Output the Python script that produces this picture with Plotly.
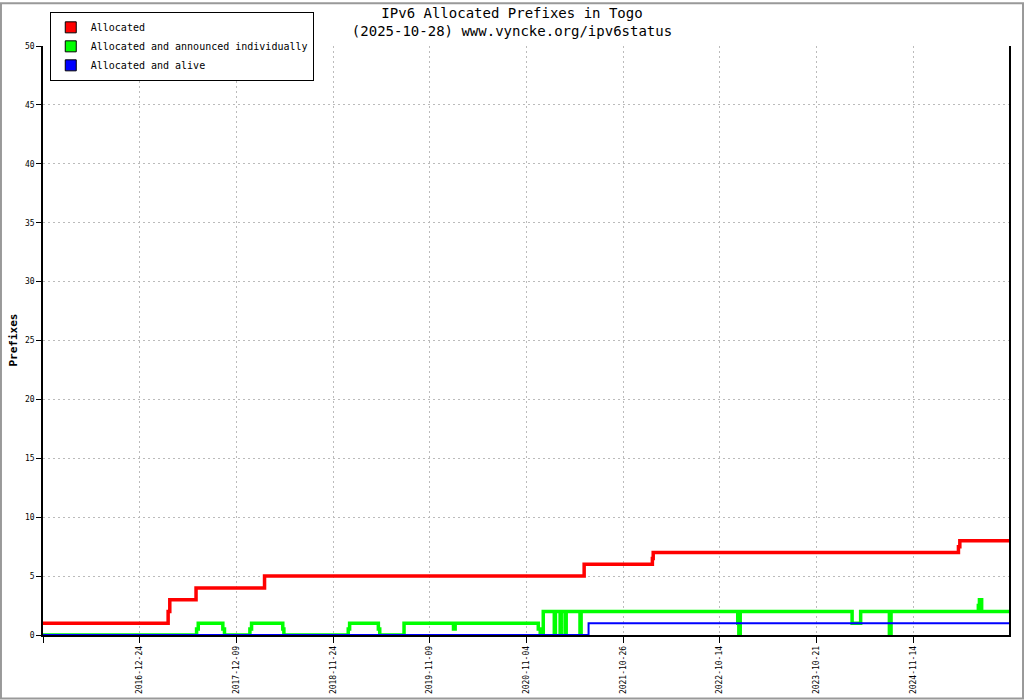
import plotly.graph_objects as go

# x is the sample number (about one sample per day) since the first record
allocated_x = [0, 453, 459, 554, 802, 1959, 2206, 2209, 3314, 3319, 3497]
allocated_y = [1, 2, 3, 4, 5, 6, 6.5, 7, 7.5, 8, 8]

announced_x = [0, 556, 562, 651, 657, 749, 755, 868, 872, 1105, 1110, 1214, 1219, 1307,
               1486, 1492, 1793, 1800, 1811, 1851, 1855, 1872, 1876, 1890, 1894, 1944, 1948,
               2515, 2519, 2524, 2929, 2960, 3064, 3070, 3386, 3390, 3398, 3497]
announced_y = [0, 0.5, 1, 0.5, 0, 0.5, 1, 0.5, 0, 0.5, 1, 0.5, 0, 1,
               0.5, 1, 0.5, 0, 2, 0, 2, 0, 2, 0, 2, 0, 2,
               1, 0, 2, 1, 2, 0, 2, 2.5, 3, 2, 2]

alive_x = [0, 1975, 3497]
alive_y = [0, 1, 1]

tick_index = [0, 350, 700, 1050, 1400, 1750, 2100, 2450, 2800, 3150]
tick_labels = ['', '2016-12-24', '2017-12-09', '2018-11-24', '2019-11-09', '2020-11-04',
               '2021-10-26', '2022-10-14', '2023-10-21', '2024-11-14']

series = [
    ('Allocated', allocated_x, allocated_y, '#ff0000', 3.5),
    ('Allocated and announced individually', announced_x, announced_y, '#00ff00', 3.5),
    ('Allocated and alive', alive_x, alive_y, '#0000ff', 2),
]

mono = 'DejaVu Sans Mono'

fig = go.Figure()
for name, xs, ys, color, width in series:
    fig.add_trace(go.Scatter(x=xs, y=ys, mode='lines', line=dict(color=color, width=width, shape='hv'),
                             name=name, showlegend=False, legendgroup=name))
# legend entries drawn as coloured boxes like the original
for name, xs, ys, color, width in series:
    fig.add_trace(go.Scatter(x=[None], y=[None], mode='markers', name=name, legendgroup=name,
                             marker=dict(symbol='square', size=11, color=color,
                                         line=dict(color='black', width=1))))

fig.update_layout(
    width=1024, height=700,
    paper_bgcolor='white',
    plot_bgcolor='white',
    margin=dict(l=43, r=15, t=44, b=65),
    font={'color': 'black', 'family': mono},
    title=dict(text='IPv6 Allocated Prefixes in Togo<br>(2025-10-28) www.vyncke.org/ipv6status',
               x=0.5, xref='container', xanchor='center',
               y=0.975, yref='container', yanchor='top',
               font=dict(family=mono, size=14, color='black')),
    showlegend=True,
)
fig.update_layout(legend=dict(
    x=0.007, y=1.058, xanchor='left', yanchor='top',
    bgcolor='white',
    bordercolor='black',
    borderwidth=1,
    font=dict(family=mono, size=10, color='black'),
    itemwidth=30,
    tracegroupgap=0,
))
fig.update_xaxes(range=[0, 3497], tickmode='array', tickvals=tick_index, ticktext=tick_labels,
                 tickangle=-90, ticks='outside', ticklen=6, tickcolor='black',
                 tickfont=dict(family=mono, size=8), automargin=False,
                 showgrid=True, gridcolor='#bbbbbb', griddash='2px,3px', gridwidth=1,
                 showline=True, linecolor='black', linewidth=1.5, zeroline=False,
                 layer='below traces')
fig.update_yaxes(range=[0, 50], dtick=5, ticks='outside', ticklen=5, tickcolor='black',
                 tickfont=dict(family=mono, size=8), automargin=False,
                 showgrid=True, gridcolor='#bbbbbb', griddash='2px,3px', gridwidth=1,
                 showline=True, mirror=True, linecolor='black', linewidth=1.5, zeroline=False,
                 layer='below traces')

# y axis title, placed by hand since the margin is fixed
fig.add_annotation(text='<b>Prefixes</b>', xref='paper', yref='paper', x=-0.031, y=0.5,
                   xanchor='center', yanchor='middle',
                   textangle=-90, showarrow=False, font=dict(family=mono, size=11, color='black'))

# grey frame round the whole picture
fig.add_shape(type='rect', xref='paper', yref='paper',
              x0=-43 / 966 + 0.001, x1=1 + 15 / 966 - 0.001,
              y0=-65 / 591 + 0.002, y1=1 + 44 / 591 - 0.002,
              line=dict(color='#999999', width=2), layer='below')

fig.write_html("out.html", config={'displayModeBar': False},
               post_script="document.body.style.margin='0';")
